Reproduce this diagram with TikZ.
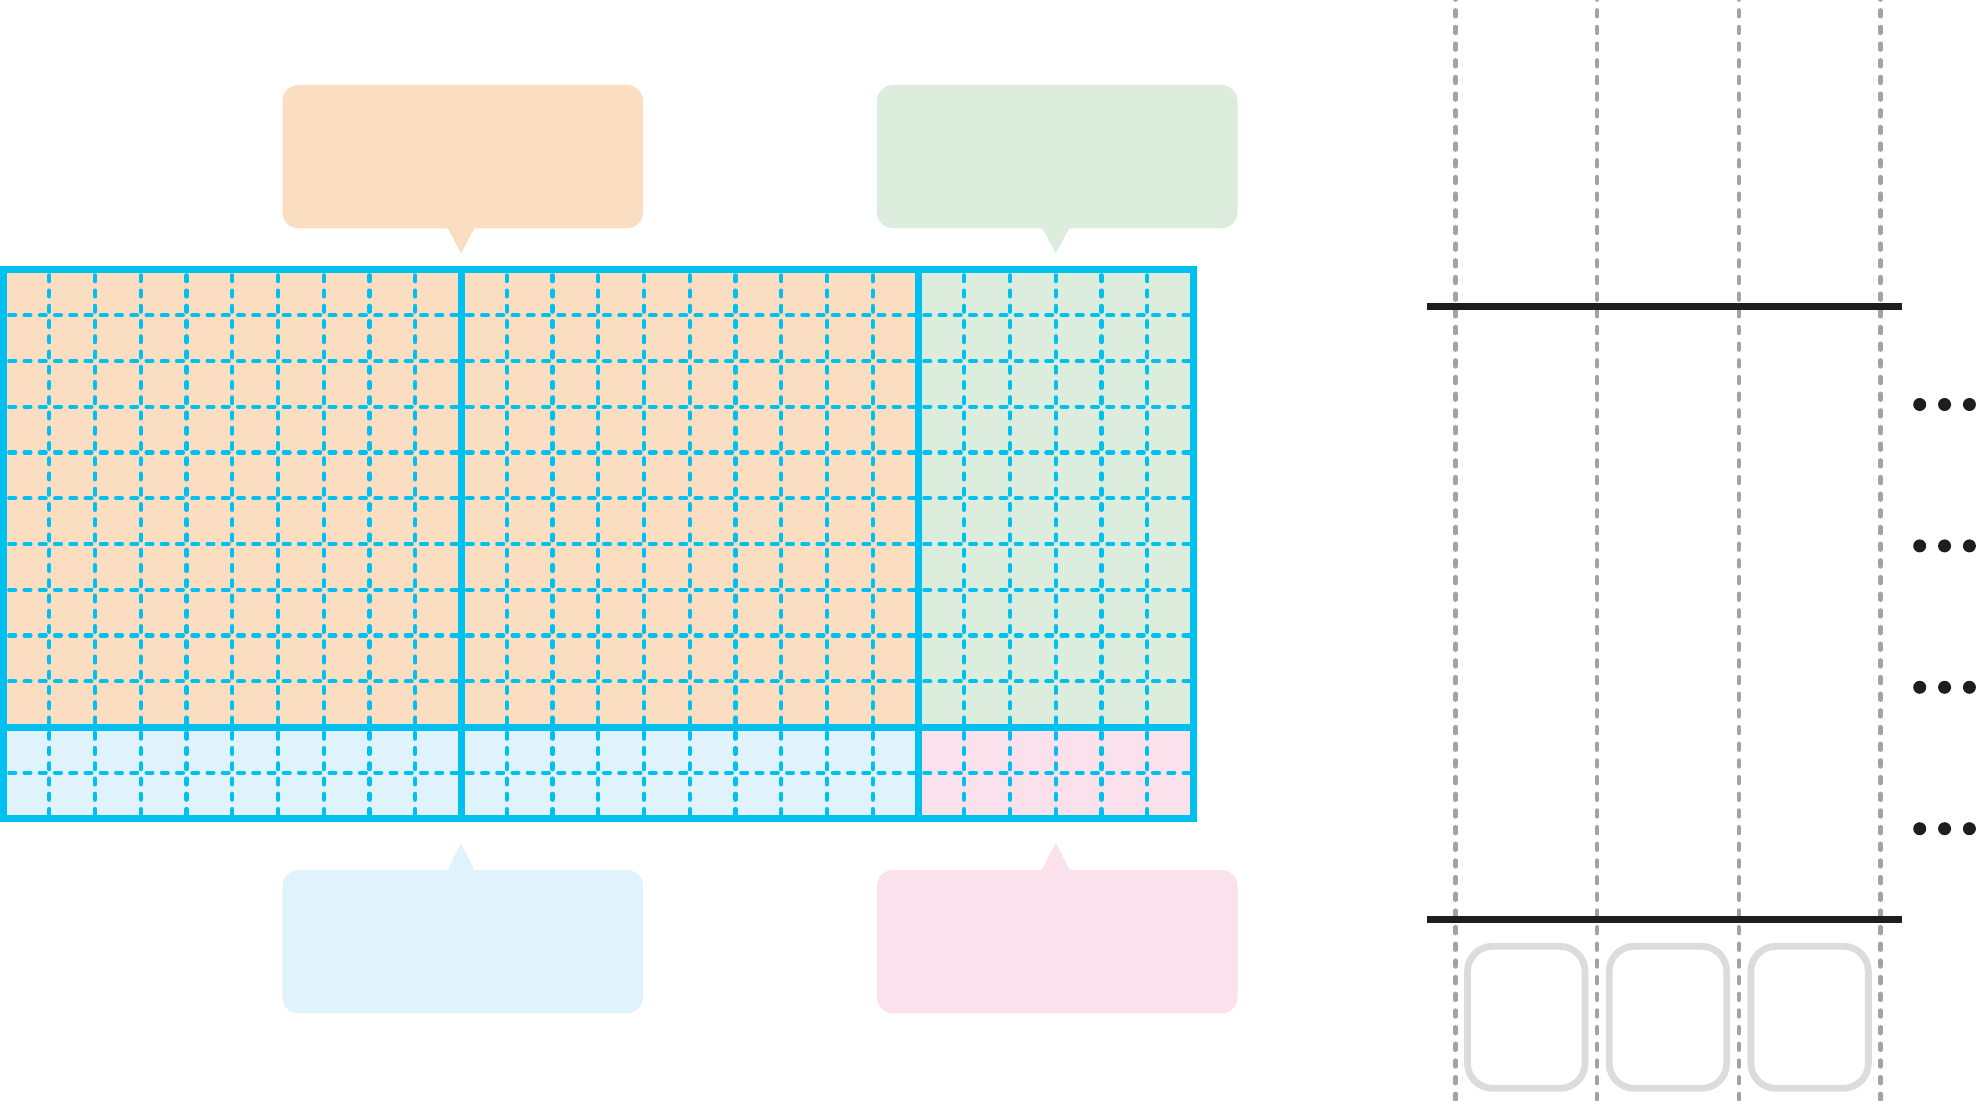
\documentclass[tikz,border=0pt]{standalone}
\definecolor{cy}{HTML}{00C0F0}
\definecolor{orfill}{HTML}{FBDDC2}
\definecolor{grfill}{HTML}{DCEDDE}
\definecolor{blfill}{HTML}{E0F2FB}
\definecolor{pkfill}{HTML}{FAE1EB}
\definecolor{gdash}{HTML}{A3A3A3}
\definecolor{gbox}{HTML}{DCDCDC}
\definecolor{ink}{HTML}{1E1E1E}
\begin{document}
\begin{tikzpicture}[x=0.5pt,y=-0.5pt,
  gridthick/.style={draw=cy, line width=3.5pt},
  griddash/.style={draw=cy, line width=2.15pt, line cap=round, dash pattern=on 2.9pt off 4.725pt, dash phase=4.7pt},
  lanedash/.style={draw=gdash, line width=2.2pt, line cap=round, dash pattern=on 3pt off 5.335pt},
  rail/.style={draw=ink, line width=3.5pt},
  slotbox/.style={draw=gbox, line width=3.4pt, rounded corners=12.5pt},
  bubblebody/.style={rounded corners=8pt},
  dotmark/.style={fill=ink}
]
\useasboundingbox (0,0) rectangle (1976,1101);
\def\xo{3.5}
\def\yo{269.5}
\def\cw{45.75}
% ---- cell fills
\fill[orfill] (\xo,\yo) rectangle ({\xo+20*\cw},{\yo+10*\cw});
\fill[grfill] ({\xo+20*\cw},\yo) rectangle ({\xo+26*\cw},{\yo+10*\cw});
\fill[blfill] (\xo,{\yo+10*\cw}) rectangle ({\xo+20*\cw},{\yo+12*\cw});
\fill[pkfill] ({\xo+20*\cw},{\yo+10*\cw}) rectangle ({\xo+26*\cw},{\yo+12*\cw});
% ---- dashed grid
\foreach \i in {1,...,9,11,12,...,19,21,22,...,25}
  \draw[griddash] ({\xo+\i*\cw},\yo) -- ({\xo+\i*\cw},{\yo+12*\cw});
\foreach \j in {1,...,9,11}
  \draw[griddash] (\xo,{\yo+\j*\cw}) -- ({\xo+26*\cw},{\yo+\j*\cw});
% ---- thick grid lines
\draw[gridthick] (\xo,\yo) rectangle ({\xo+26*\cw},{\yo+12*\cw});
\draw[gridthick] ({\xo+10*\cw},\yo) -- ({\xo+10*\cw},{\yo+12*\cw});
\draw[gridthick] ({\xo+20*\cw},\yo) -- ({\xo+20*\cw},{\yo+12*\cw});
\draw[gridthick] (\xo,{\yo+10*\cw}) -- ({\xo+26*\cw},{\yo+10*\cw});
% ---- speech bubbles
% top left (orange)
\fill[orfill, bubblebody] (282.5,85) rectangle (643,228.3);
\fill[orfill] (446.5,226) -- (475.5,226) -- (461,253.3) -- cycle;
% top right (green)
\fill[grfill, bubblebody] (877,85) rectangle (1237.5,228.3);
\fill[grfill] (1041,226) -- (1070.5,226) -- (1055.75,253.3) -- cycle;
% bottom left (blue)
\fill[blfill, bubblebody] (282.5,870) rectangle (643,1013.3);
\fill[blfill] (446.5,872.3) -- (475.5,872.3) -- (461,843) -- cycle;
% bottom right (pink)
\fill[pkfill, bubblebody] (877,870) rectangle (1237.5,1013.3);
\fill[pkfill] (1040.5,872.3) -- (1071,872.3) -- (1055.75,843) -- cycle;
% ---- right side: lanes
\foreach \k in {0,1,2,3}
  \draw[lanedash] ({1455.5+\k*141.67},-6.37) -- ({1455.5+\k*141.67},1110);
\foreach \k in {0,1,2}
  \draw[slotbox] ({1467.5+\k*141.67},946.3) rectangle ({1585+\k*141.67},1088.3);
\draw[rail] (1427.3,306.7) -- (1902,306.7);
\draw[rail] (1427.3,919.3) -- (1902,919.3);
% ---- ellipsis dots
\foreach \r in {0,1,2,3}
  \foreach \d in {0,1,2}
    \fill[dotmark] ({1919.7+\d*24.85},{404.5+\r*141.4}) circle[radius=3.25pt];
\end{tikzpicture}
\end{document}
